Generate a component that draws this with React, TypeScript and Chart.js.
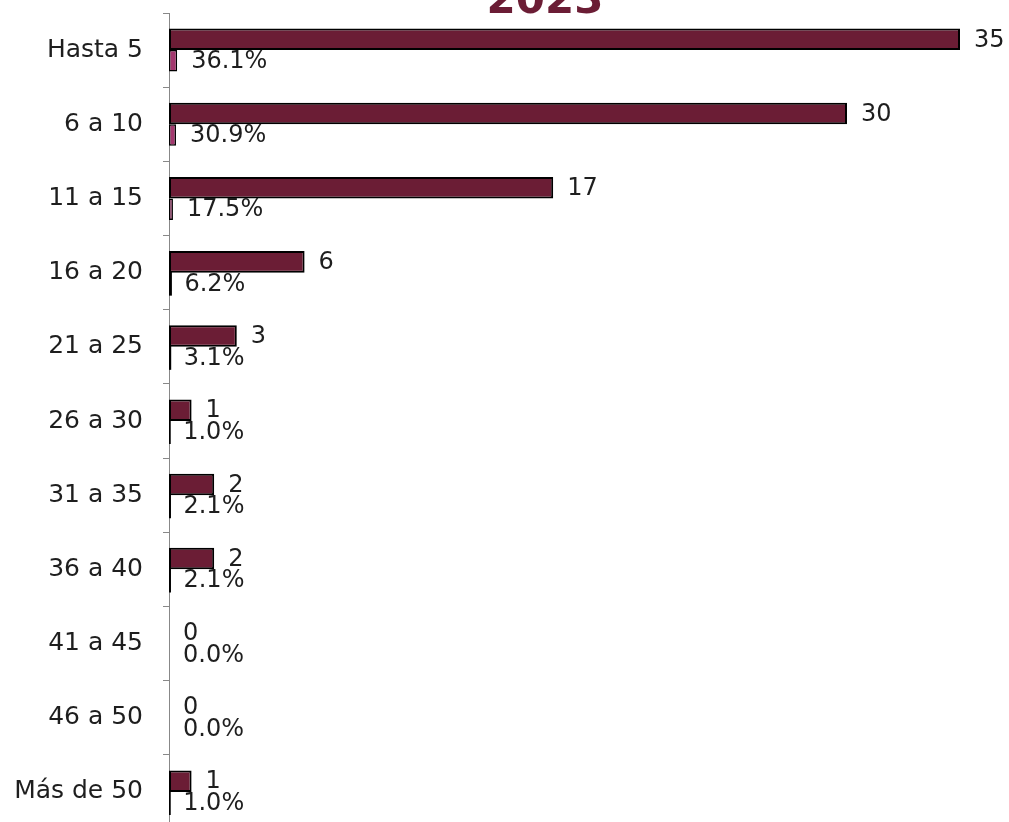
import React, { useEffect, useRef } from "react";
import { Chart, registerables } from "chart.js";

Chart.register(...registerables);

const categories = [
  "Hasta 5",
  "6 a 10",
  "11 a 15",
  "16 a 20",
  "21 a 25",
  "26 a 30",
  "31 a 35",
  "36 a 40",
  "41 a 45",
  "46 a 50",
  "Más de 50",
];
const counts = [35, 30, 17, 6, 3, 1, 2, 2, 0, 0, 1];
const percents = [36.1, 30.9, 17.5, 6.2, 3.1, 1.0, 2.1, 2.1, 0.0, 0.0, 1.0];
const titleText = "2023";

const FONT = '"DejaVu Sans", sans-serif';
const MAROON = "#6B1D35";
const PINK = "#A3376E";
const TEXT = "#1e1e1e";

const labelPlugin = {
  id: "barLabels",
  afterDatasetsDraw(chart: any) {
    const ctx = chart.ctx;
    ctx.save();
    ctx.font = `24px ${FONT}`;
    ctx.fillStyle = TEXT;
    ctx.textBaseline = "middle";
    ctx.textAlign = "left";
    chart.data.datasets.forEach((_ds: any, di: number) => {
      const meta = chart.getDatasetMeta(di);
      meta.data.forEach((bar: any, i: number) => {
        const text = di === 0 ? String(counts[i]) : `${percents[i].toFixed(1)}%`;
        const { x, y } = bar.getProps(["x", "y"], true);
        ctx.fillText(text, x + 14, y + 1);
      });
    });
    // title
    ctx.font = `bold 42px ${FONT}`;
    ctx.fillStyle = MAROON;
    ctx.textAlign = "center";
    ctx.textBaseline = "alphabetic";
    ctx.fillText(titleText, 545, chart.chartArea.top);
    ctx.restore();
  },
};

export default function App() {
  const canvasRef = useRef<HTMLCanvasElement | null>(null);

  useEffect(() => {
    if (!canvasRef.current) return;
    const chart = new Chart(canvasRef.current, {
      type: "bar",
      data: {
        labels: categories,
        datasets: [
          {
            label: "Cantidad",
            data: counts,
            backgroundColor: MAROON,
            borderColor: "#000",
            borderWidth: 2,
            borderSkipped: false,
            inflateAmount: 0,
            categoryPercentage: 0.58,
            barPercentage: 1,
          },
          {
            label: "Porcentaje",
            data: percents.map((v) => v / 100),
            backgroundColor: (c: any) => (c.raw >= 0.1 ? PINK : "#000"),
            borderColor: "#000",
            borderWidth: (c: any) => (c.raw >= 0.1 ? 1.5 : 0),
            borderSkipped: false,
            inflateAmount: (c: any) => (c.raw > 0 && c.raw < 0.1 ? 1.5 : 0),
            categoryPercentage: 0.58,
            barPercentage: 1,
          },
        ],
      },
      options: {
        indexAxis: "y",
        animation: false,
        responsive: false,
        maintainAspectRatio: false,
        layout: { padding: { left: 0, right: 49, top: 30, bottom: 0 } },
        plugins: {
          legend: { display: false },
          tooltip: { enabled: false },
          title: { display: false },
        },
        scales: {
          x: {
            display: false,
            min: 0,
            max: 35,
          },
          y: {
            afterFit: (scale: any) => {
              scale.width = 169;
              scale.paddingTop = 0;
              scale.paddingBottom = 0;
            },
            grid: {
              display: true,
              drawOnChartArea: false,
              drawTicks: true,
              tickLength: 6,
              color: "#888",
              offset: true,
            },
            border: { display: true, color: "#888", width: 1 },
            ticks: {
              color: TEXT,
              padding: 20,
              font: { family: FONT, size: 25 },
            },
          },
        },
      },
      plugins: [labelPlugin],
    } as any);
    return () => chart.destroy();
  }, []);

  return (
    <div style={{ position: "fixed", left: 0, top: -17, width: 1009, height: 846 }}>
      <canvas ref={canvasRef} width={1009} height={846} style={{ display: "block" }} />
    </div>
  );
}
